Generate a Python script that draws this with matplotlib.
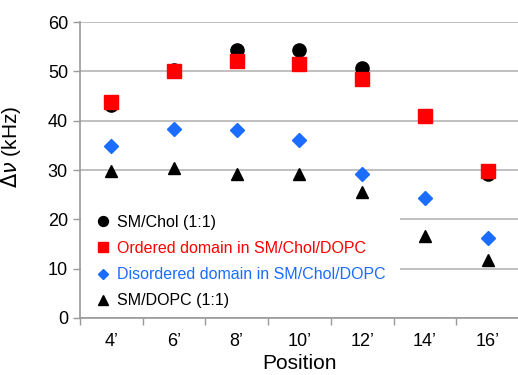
import matplotlib

matplotlib.use("Agg")
import matplotlib.pyplot as plt
import numpy as np
from matplotlib.patches import Rectangle

plt.rcParams["font.family"] = ["Liberation Sans", "DejaVu Sans"]

# ---- data
positions = ["4\u2019", "6\u2019", "8\u2019", "10\u2019", "12\u2019", "14\u2019", "16\u2019"]
sm_chol = [43.2, 50.3, 54.4, 54.4, 50.7, np.nan, 29.3]
ordered = [43.8, 50.0, 52.2, 51.5, 48.4, 41.0, 29.9]
disordered = [34.8, 38.3, 38.1, 36.0, 29.3, 24.3, 16.2]
sm_dopc = [29.8, 30.5, 29.2, 29.2, 25.5, 16.7, 11.8]

labels = [
    "SM/Chol (1:1)",
    "Ordered domain in SM/Chol/DOPC",
    "Disordered domain in SM/Chol/DOPC",
    "SM/DOPC (1:1)",
]
colors = ["black", "#ff0000", "#1a6dff", "black"]
markers = ["o", "s", "D", "^"]
sizes = [9.5, 9.5, 7, 9]

fig = plt.figure(figsize=(5.18, 3.75), dpi=100)
ax = fig.add_axes([0.154, 0.152, 0.848, 0.789])

x = np.arange(len(positions))
for ys, lab, c, m, s in zip([sm_chol, ordered, disordered, sm_dopc], labels, colors, markers, sizes):
    ax.plot(x, ys, ls="none", marker=m, color=c, ms=s, mec=c, label=lab, zorder=3)

ax.set_xlim(-0.5, len(positions) - 0.5)
ax.set_ylim(0, 60)
ax.set_yticks(range(0, 61, 10))
ax.set_xticks(x)
ax.set_xticklabels(positions)
ax.set_xticks(np.arange(-0.5, len(positions), 1.0), minor=True)
ax.tick_params(axis="x", which="major", length=0, labelsize=13, pad=11)
ax.tick_params(axis="x", which="minor", length=5, color="#999999", width=1)
ax.tick_params(axis="y", length=5, color="#999999", labelsize=13, width=1)
ax.yaxis.grid(True, color="#b5b5b5", lw=1.2)
ax.set_axisbelow(True)
for sp in ("top", "right"):
    ax.spines[sp].set_visible(False)
for sp in ("left", "bottom"):
    ax.spines[sp].set_color("#999999")
    ax.spines[sp].set_linewidth(1.2)

ax.set_xlabel("Position", fontsize=15, labelpad=3)
ax.set_ylabel(r"$\Delta\nu$ (kHz)", fontsize=15, labelpad=8)
ax.yaxis.set_label_coords(-0.13, 0.578)

# white box behind the legend hides the gridlines, as in the original
ax.add_patch(Rectangle((0.003, 0.004), 0.726, 0.375, transform=ax.transAxes,
                       facecolor="white", edgecolor="none", zorder=1))

leg = ax.legend(loc="lower left", bbox_to_anchor=(0.012, 0.0), frameon=False,
                fontsize=11.5, handletextpad=0.3, labelspacing=0.7,
                markerscale=0.75, borderpad=0.3, borderaxespad=0.3,
                handlelength=1.1)
for txt, c in zip(leg.get_texts(), colors):
    txt.set_color(c)

fig.savefig("out.png", dpi=100)
